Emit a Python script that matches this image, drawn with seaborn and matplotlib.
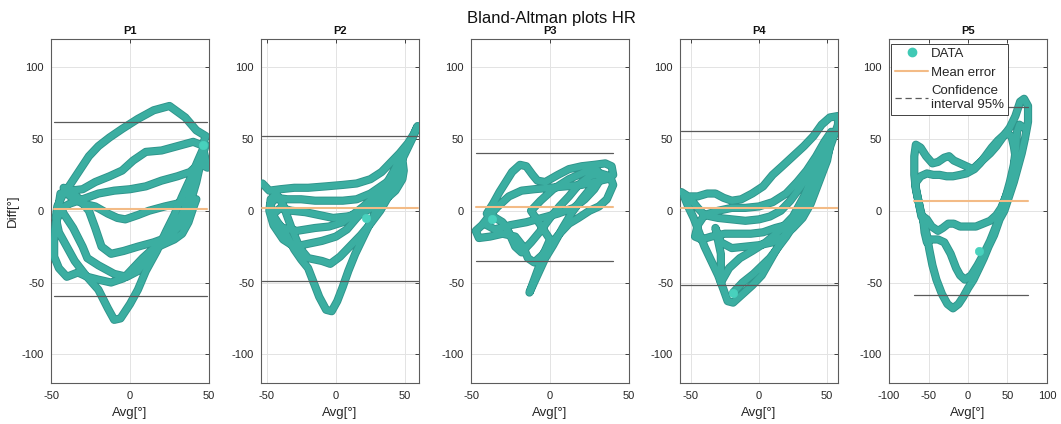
import matplotlib
matplotlib.use("Agg")
import matplotlib.pyplot as plt
import matplotlib.patheffects as pe
from matplotlib.lines import Line2D
import numpy as np
import pandas as pd
import seaborn as sns

# ---- data: (avg, diff) samples traced per participant ----
p1_points = [
    (46, 46), (48, 52), (42, 56), (35, 65), (25, 73), (15, 70), (5, 64), (-5, 57),
    (-13, 51), (-20, 45), (-26, 38), (-32, 28), (-38, 18), (-43, 10), (-46, 3),
    (-47, -5), (-45, -15), (-40, -25), (-35, -35), (-28, -45), (-20, -55),
    (-14, -68), (-10, -76), (-6, -75), (0, -65), (5, -55), (10, -42), (17, -28),
    (23, -14), (28, -3), (33, 10), (38, 22), (43, 35), (47, 45), (40, 48),
    (30, 45), (20, 42), (10, 41), (2, 35), (-5, 28), (-13, 24), (-22, 20),
    (-30, 15), (-38, 14), (-44, 12), (-45, 5), (-42, -2), (-36, -12), (-30, -25),
    (-27, -33), (-20, -38), (-10, -44), (-2, -46), (5, -42), (10, -34), (15, -28),
    (22, -20), (28, -12), (34, 0), (38, 12), (43, 28), (47, 40), (49, 30),
    (44, 33), (38, 27), (30, 24), (20, 21), (10, 17), (0, 15), (-10, 14),
    (-20, 12), (-30, 8), (-38, 5), (-43, 2), (-47, -8), (-48, -20), (-48, -32),
    (-45, -40), (-40, -46), (-33, -43), (-27, -46), (-20, -48), (-12, -50),
    (-4, -47), (2, -40), (8, -33), (14, -27), (20, -24), (28, -20), (33, -16),
    (37, -8), (40, 2), (42, 8), (38, 7), (30, 5), (22, 3), (12, 0), (5, -3),
    (-3, -6), (-8, -5), (-14, -2), (-22, 3), (-30, 5), (-38, 10), (-42, 16),
    (-37, 14), (-32, 8), (-26, 0), (-22, -12), (-18, -25), (-12, -30), (-4, -28),
    (5, -25), (15, -22), (25, -18), (32, -10), (38, 5), (42, 20), (45, 35),
    (48, 46),
]
p2_points = [
    (-53, 19), (-48, 14), (-40, 15), (-30, 16), (-20, 16), (-7, 17), (5, 18),
    (15, 19), (25, 22), (33, 27), (40, 34), (46, 40), (52, 47), (56, 53),
    (59, 59), (55, 50), (49, 38), (45, 30), (40, 22), (34, 18), (25, 12),
    (15, 8), (5, 7), (-5, 7), (-15, 7), (-25, 8), (-35, 8), (-43, 9), (-47, 5),
    (-46, -2), (-42, -8), (-36, -16), (-30, -27), (-25, -34), (-20, -40),
    (-16, -50), (-12, -60), (-7, -69), (-3, -70), (1, -63), (5, -53), (9, -42),
    (14, -30), (20, -18), (25, -8), (30, 2), (35, 12), (40, 22), (45, 32),
    (48, 36), (49, 28), (48, 22), (43, 14), (36, 8), (28, 3), (18, -2), (8, -4),
    (-2, -5), (-12, -3), (-22, -1), (-32, 0), (-40, 2), (-46, -3), (-44, -8),
    (-38, -12), (-28, -14), (-15, -12), (-5, -11), (5, -8), (12, -3), (20, 3),
    (28, 10), (36, 18), (42, 28), (46, 36), (44, 30), (38, 20), (32, 12),
    (25, 5), (15, -5), (8, -13), (0, -18), (-10, -21), (-20, -23), (-30, -25),
    (-38, -20), (-45, -10), (-48, 0), (-47, 8), (-43, 12), (-38, 4), (-32, -12),
    (-26, -26), (-20, -33), (-10, -35), (-4, -37), (3, -32), (10, -25),
    (18, -17), (25, -9), (32, 0), (38, 10), (44, 22), (48, 30),
]
p3_points = [
    (-37, -6), (-40, -2), (-36, 5), (-32, 13), (-28, 20), (-24, 27), (-19, 32),
    (-15, 31), (-11, 25), (-8, 21), (-3, 20), (5, 25), (12, 29), (20, 31),
    (28, 32), (35, 33), (39, 31), (40, 25), (36, 22), (28, 20), (20, 18),
    (10, 17), (0, 16), (-10, 15), (-18, 14), (-26, 10), (-33, 3), (-38, -3),
    (-43, -10), (-47, -14), (-45, -19), (-38, -18), (-30, -16), (-22, -18),
    (-17, -25), (-14, -33), (-10, -36), (-5, -31), (0, -24), (6, -16), (12, -9),
    (18, -5), (25, 0), (31, 3), (36, 8), (40, 18), (38, 24), (32, 26), (25, 24),
    (18, 18), (12, 10), (6, 3), (0, -5), (-6, -14), (-12, -22), (-18, -29),
    (-22, -25), (-26, -15), (-30, -8), (-36, -4), (-40, -10), (-35, -13),
    (-25, -10), (-15, -8), (-5, -5), (5, -2), (15, 2), (22, 8), (28, 15),
    (32, 22), (30, 28), (22, 27), (12, 22), (2, 15), (-6, 7), (-12, 0),
    (-6, -10), (0, -20), (-4, -30), (-8, -42), (-13, -57), (-8, -45), (-3, -33),
    (2, -24), (8, -12), (14, -1), (20, 8), (26, 16), (30, 20),
]
p4_points = [
    (-57, 13), (-52, 10), (-45, 10), (-38, 12), (-32, 12), (-26, 9), (-20, 7),
    (-13, 8), (-5, 12), (3, 17), (10, 25), (17, 31), (25, 38), (33, 45),
    (40, 52), (46, 60), (52, 65), (58, 66), (58, 60), (55, 52), (52, 44),
    (49, 35), (45, 25), (40, 15), (34, 5), (27, -5), (20, -15), (14, -25),
    (8, -35), (2, -45), (-5, -52), (-12, -58), (-19, -64), (-23, -63),
    (-26, -55), (-30, -45), (-35, -35), (-40, -25), (-44, -15), (-48, -5),
    (-52, 3), (-55, 10), (-50, 8), (-45, 2), (-40, -3), (-30, -5), (-20, -6),
    (-10, -7), (0, -6), (8, -4), (16, 0), (23, 7), (30, 16), (37, 26), (43, 36),
    (48, 45), (52, 52), (50, 42), (47, 32), (44, 22), (40, 12), (34, 3),
    (28, -4), (20, -10), (12, -12), (3, -15), (-6, -16), (-15, -16), (-25, -16),
    (-35, -18), (-42, -20), (-47, -18), (-45, -10), (-40, -3), (-30, 0),
    (-20, 2), (-10, 2), (0, 3), (10, 6), (20, 12), (28, 20), (35, 28), (42, 38),
    (48, 48), (53, 55), (52, 45), (50, 35), (46, 25), (42, 15), (38, 5),
    (32, -5), (25, -12), (18, -18), (10, -22), (0, -24), (-10, -25), (-20, -26),
    (-28, -22), (-32, -12), (-28, -30), (-28, -50), (-22, -40), (-14, -33),
    (-5, -28), (5, -22), (15, -14), (25, -4), (33, 10), (40, 25), (46, 38),
    (50, 48), (47, 40), (42, 22), (32, 0), (20, -18), (8, -33), (-4, -44),
    (-12, -50), (-19, -57),
]
p5_points = [
    (-59, -4), (-62, 5), (-66, 15), (-68, 25), (-68, 38), (-66, 46), (-60, 44),
    (-53, 38), (-45, 33), (-38, 34), (-30, 37), (-24, 38), (-18, 35), (-10, 33),
    (-2, 31), (6, 29), (12, 32), (20, 36), (28, 40), (36, 45), (45, 52),
    (53, 58), (60, 66), (66, 76), (71, 78), (76, 73), (76, 62), (72, 50),
    (68, 40), (63, 30), (58, 20), (52, 10), (46, 0), (40, -6), (33, -17),
    (26, -25), (20, -33), (14, -40), (7, -48), (0, -54), (-6, -60), (-12, -65),
    (-19, -68), (-26, -65), (-33, -58), (-40, -48), (-45, -38), (-49, -27),
    (-52, -17), (-56, -8), (-60, 0), (-64, 10), (-67, 19), (-60, 24), (-52, 26),
    (-44, 25), (-36, 25), (-27, 24), (-19, 24), (-10, 25), (-2, 26), (8, 29),
    (15, 33), (22, 38), (30, 44), (38, 49), (48, 54), (55, 52), (58, 45),
    (60, 38), (58, 28), (54, 18), (48, 10), (42, 2), (36, -3), (28, -7),
    (19, -9), (10, -11), (0, -11), (-10, -11), (-18, -9), (-25, -9), (-32, -12),
    (-38, -14), (-46, -11), (-52, -6), (-57, -4), (-55, -15), (-52, -22),
    (-46, -20), (-38, -20), (-30, -22), (-22, -30), (-15, -40), (-10, -45),
    (-4, -48), (4, -45), (12, -38), (20, -30), (28, -21), (36, -10), (42, 0),
    (48, 10), (53, 20), (58, 32), (61, 45), (62, 55), (65, 60), (70, 58),
]

# first recorded sample of each series (drawn in the lighter tone)
first_avg = [46, 22, -37, -19, 14]
first_diff = [46, -5, -6, -57, -28]

participants = ["P1", "P2", "P3", "P4", "P5"]
mean_error = [1.2, 1.6, 2.5, 1.6, 7.0]
upper_limit = [62.0, 52.3, 40.0, 55.6, 72.5]
lower_limit = [-59.5, -49.0, -35.2, -52.0, -58.6]

x_limits = [(-50, 50), (-54, 60), (-50, 50), (-58, 58), (-100, 100)]
x_ticks = [[-50, 0, 50], [-50, 0, 50], [-50, 0, 50], [-50, 0, 50],
           [-100, -50, 0, 50, 100]]
y_ticks = [-100, -50, 0, 50, 100]

all_points = [p1_points, p2_points, p3_points, p4_points, p5_points]

# ---- style ----
sns.set_style("white")
plt.rcParams["font.family"] = ["Liberation Sans", "DejaVu Sans"]
plt.rcParams["axes.unicode_minus"] = False

TEXT = "#262626"
DATA_FILL = "#3bae a1".replace(" ", "")
DATA_EDGE = "#2f948b"
DATA_LIGHT = "#48d1bd"
MEAN_C = "#f3bb86"
CI_C = "#5a5a5a"

fig = plt.figure(figsize=(10.61, 4.24), dpi=100)

left_px = [51, 261, 471, 680, 889]
ax_w, ax_top, ax_bot = 158, 38.5, 383
W, H = 1061, 424

for i, pts in enumerate(all_points):
    ax = fig.add_axes([left_px[i] / W, (H - ax_bot) / H, ax_w / W, (ax_bot - ax_top) / H])
    df = pd.DataFrame(pts, columns=["avg", "diff"])

    ax.grid(True, color="#e3e3e3", lw=0.7, zorder=0)
    ax.set_axisbelow(True)

    sns.lineplot(data=df, x="avg", y="diff", sort=False, estimator=None, ax=ax,
                 color=DATA_FILL, lw=4.6, solid_capstyle="round",
                 solid_joinstyle="round", zorder=3, legend=False)
    ax.lines[-1].set_path_effects([pe.Stroke(linewidth=5.9, foreground=DATA_EDGE),
                                   pe.Normal()])
    sns.scatterplot(x=[first_avg[i]], y=[first_diff[i]], ax=ax, s=36,
                    color=DATA_LIGHT, edgecolor=DATA_LIGHT, zorder=4, legend=False)

    x0, x1 = df["avg"].min(), df["avg"].max()
    ax.plot([x0, x1], [upper_limit[i]] * 2, color=CI_C, lw=0.9, zorder=5)
    ax.plot([x0, x1], [lower_limit[i]] * 2, color=CI_C, lw=0.9, zorder=5)
    ax.plot([x0, x1], [mean_error[i]] * 2, color=MEAN_C, lw=1.5, zorder=5)

    ax.set_xlim(*x_limits[i])
    ax.set_ylim(-120, 120)
    ax.set_xticks(x_ticks[i])
    ax.set_yticks(y_ticks)
    ax.tick_params(direction="in", length=3, width=0.6, colors=TEXT,
                   labelsize=8, top=True, right=True)
    ax.tick_params(axis="x", pad=6)
    ax.tick_params(axis="y", pad=5)
    for s in ax.spines.values():
        s.set_color("#5c5c5c")
        s.set_linewidth(0.8)
    ax.set_xlabel("Avg[°]", fontsize=9.5, color=TEXT, labelpad=4)
    ax.set_ylabel("Diff[°]" if i == 0 else "", fontsize=9.5, color=TEXT, labelpad=2)
    ax.set_title(participants[i], fontsize=8, fontweight="bold", color="#111111", pad=3)

    if i == 4:
        handles = [
            Line2D([], [], ls="none", marker="o", ms=6, color="#40c9b5"),
            Line2D([], [], color=MEAN_C, lw=1.5),
            Line2D([], [], color=CI_C, lw=0.9, ls=(0, (5, 3))),
        ]
        leg = ax.legend(handles, ["DATA", "Mean error", "Confidence\ninterval 95%"],
                        loc="upper left", bbox_to_anchor=(0.015, 0.985),
                        borderaxespad=0, fontsize=9.5, frameon=True, fancybox=False,
                        framealpha=1, edgecolor="#222222", handlelength=2.5,
                        handletextpad=0.2, borderpad=0.3, labelspacing=0.5)
        leg.get_frame().set_linewidth(0.6)
        leg.set_zorder(10)

fig.text(551 / W, 1 - 18 / H, "Bland-Altman plots HR", ha="center", va="center",
         fontsize=12, color="#111111")

fig.savefig("out.png", dpi=100)
